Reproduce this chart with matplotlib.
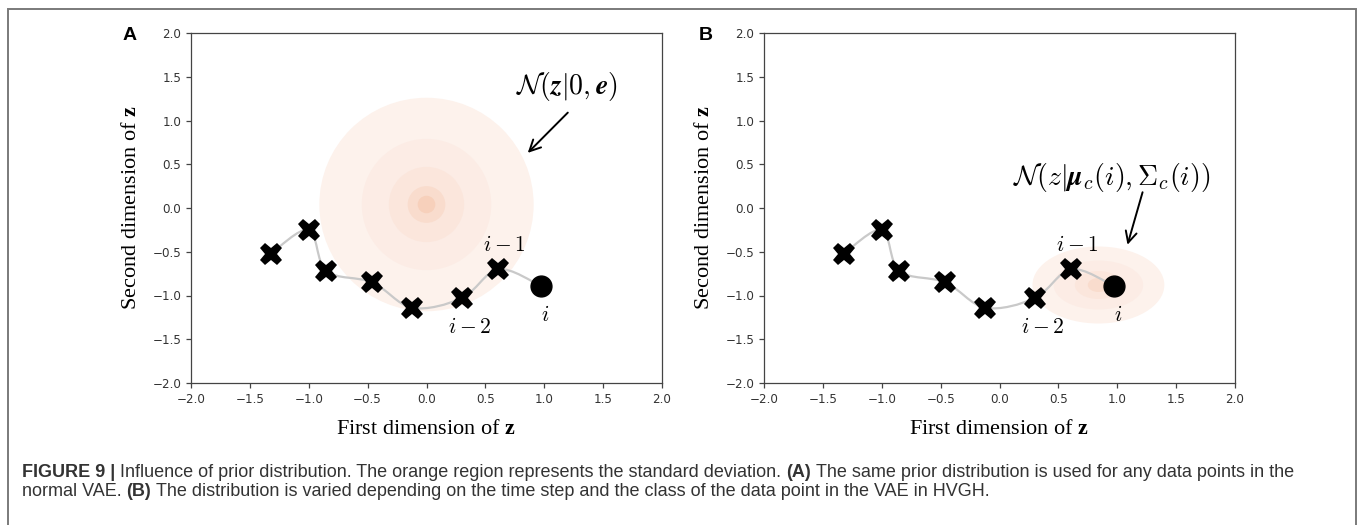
import numpy as np
import matplotlib
matplotlib.use('Agg')
import matplotlib.pyplot as plt
from matplotlib.path import Path
from matplotlib.patches import PathPatch, Ellipse, Rectangle

# latent trajectory, last point is the current step i
traj_x = [-1.32, -1.00, -0.85, -0.46, -0.12, 0.30, 0.61, 0.97]
traj_y = [-0.52, -0.25, -0.72, -0.85, -1.14, -1.03, -0.70, -0.89]

# prior A: standard normal, drawn as filled levels (half width, half height)
prior_a_center = (0.0, 0.04)
prior_a_rx = [0.91, 0.55, 0.32, 0.16, 0.075]
prior_a_ry = [1.22, 0.75, 0.43, 0.21, 0.10]
# prior B: class / time dependent
prior_b_center = (0.84, -0.88)
prior_b_rx = [0.56, 0.38, 0.20, 0.09]
prior_b_ry = [0.44, 0.28, 0.16, 0.08]
level_colors = ['#fdf2ec', '#fcece5', '#fbe6dc', '#f9dccd', '#f7d0bb']

ticks = [-2.0, -1.5, -1.0, -0.5, 0.0, 0.5, 1.0, 1.5, 2.0]

plt.rcParams['mathtext.fontset'] = 'custom'
plt.rcParams['mathtext.rm'] = 'Liberation Serif'
plt.rcParams['mathtext.it'] = 'Liberation Serif:italic'
plt.rcParams['mathtext.bf'] = 'Liberation Serif:bold'


def smooth_path(xs, ys):
    # catmull-rom through the points, as cubic beziers
    pts = np.column_stack([xs, ys])
    n = len(pts)
    verts = [pts[0]]
    codes = [Path.MOVETO]
    for k in range(n - 1):
        p0 = pts[max(k - 1, 0)]
        p1 = pts[k]
        p2 = pts[k + 1]
        p3 = pts[min(k + 2, n - 1)]
        verts += [p1 + (p2 - p0) / 6.0, p2 - (p3 - p1) / 6.0, p2]
        codes += [Path.CURVE4] * 3
    return Path(verts, codes)


def draw_panel(ax, center, rxs, rys, formula, txt_xy, arrow_from, arrow_to):
    for k in range(len(rxs)):
        ax.add_patch(Ellipse(center, 2 * rxs[k], 2 * rys[k],
                             facecolor=level_colors[k], edgecolor='none',
                             zorder=1))
    ax.add_patch(PathPatch(smooth_path(traj_x, traj_y), facecolor='none',
                           edgecolor='#c9c9c9', lw=1.6, zorder=2))
    ax.plot(traj_x[:-1], traj_y[:-1], 'X', color='black', ms=16.5,
            markeredgewidth=0, zorder=3)
    ax.plot(traj_x[-1:], traj_y[-1:], 'o', color='black', ms=15, zorder=3)

    ax.text(0.658, -0.42, r'$i-1$', fontsize=15.5, ha='center', va='center',
            math_fontfamily='cm')
    ax.text(0.369, -1.36, r'$i-2$', fontsize=15.5, ha='center', va='center',
            math_fontfamily='cm')
    ax.text(1.01, -1.22, r'$i$', fontsize=15.5, ha='center', va='center',
            math_fontfamily='cm')

    ax.text(txt_xy[0], txt_xy[1], formula, fontsize=20, ha='center',
            va='center', math_fontfamily='cm')
    ax.annotate('', xy=arrow_to, xytext=arrow_from,
                arrowprops=dict(arrowstyle='->', color='black', lw=1.4,
                                mutation_scale=20, shrinkA=0, shrinkB=0))

    ax.set_xlim(-2, 2)
    ax.set_ylim(-2, 2)
    ax.set_xticks(ticks)
    ax.set_yticks(ticks)
    ax.tick_params(labelsize=8.6, labelcolor='#333333', color='#444444',
                   length=3.5, width=0.9)
    for s in ax.spines.values():
        s.set_color('#444444')
        s.set_linewidth(0.9)
    ax.set_xlabel(r'First dimension of $\mathbf{z}$', fontsize=16,
                  family='Liberation Serif', labelpad=10)
    ax.set_ylabel(r'Second dimension of $\mathbf{z}$', fontsize=16,
                  family='Liberation Serif', labelpad=8)


fig = plt.figure(figsize=(13.6, 5.25), dpi=100)
W, H = 1360.0, 525.0
ax_a = fig.add_axes([191 / W, 1 - 383 / H, 471 / W, 350 / H])
ax_b = fig.add_axes([764 / W, 1 - 383 / H, 471 / W, 350 / H])

draw_panel(ax_a, prior_a_center, prior_a_rx, prior_a_ry,
           r'$\mathcal{N}(\boldsymbol{z}|\mathbf{0},\boldsymbol{e})$',
           (1.19, 1.39), (1.20, 1.09), (0.86, 0.63))
draw_panel(ax_b, prior_b_center, prior_b_rx, prior_b_ry,
           r'$\mathcal{N}(z|\boldsymbol{\mu}_c(i),\mathbf{\Sigma}_c(i))$',
           (0.95, 0.35), (1.215, 0.18), (1.087, -0.42))

fig.text(129.5 / W, 1 - 35.5 / H, 'A', fontsize=14, fontweight='bold',
         family='Liberation Sans', ha='center', va='center')
fig.text(706 / W, 1 - 35.5 / H, 'B', fontsize=14, fontweight='bold',
         family='Liberation Sans', ha='center', va='center')

# outer frame (bottom edge is off the page)
fig.add_artist(Rectangle((8 / W, -0.1), 1348 / W, 1.1 - 9 / H,
                         transform=fig.transFigure, facecolor='none',
                         edgecolor='#7a7a7a', lw=1.4))

# caption, bold pieces chained after the previous text
cap = fig.add_axes([0, 0, 1, 1])
cap.axis('off')
cap.set_xlim(0, W)
cap.set_ylim(0, H)
cap_lines = [
    [('FIGURE 9 |', 'bold'),
     ('Influence of prior distribution. The orange region represents the '
      'standard deviation.', 'normal'),
     ('(A)', 'bold'),
     ('The same prior distribution is used for any data points in the',
      'normal')],
    [('normal VAE.', 'normal'),
     ('(B)', 'bold'),
     ('The distribution is varied depending on the time step and the class '
      'of the data point in the VAE in HVGH.', 'normal')],
]
cap_baselines = [H - 477, H - 496]
for line, base in zip(cap_lines, cap_baselines):
    prev = None
    for txt, wt in line:
        if prev is None:
            prev = cap.text(22, base, txt, fontsize=13.0, fontweight=wt,
                            family='Liberation Sans', color='#333333',
                            va='baseline', ha='left')
        else:
            prev = cap.annotate(txt, xy=(1, base), xycoords=(prev, 'data'),
                                xytext=(3.5, 0), textcoords='offset points',
                                fontsize=13.0, fontweight=wt,
                                family='Liberation Sans', color='#333333',
                                va='baseline', ha='left')

fig.savefig('out.png', dpi=100)
